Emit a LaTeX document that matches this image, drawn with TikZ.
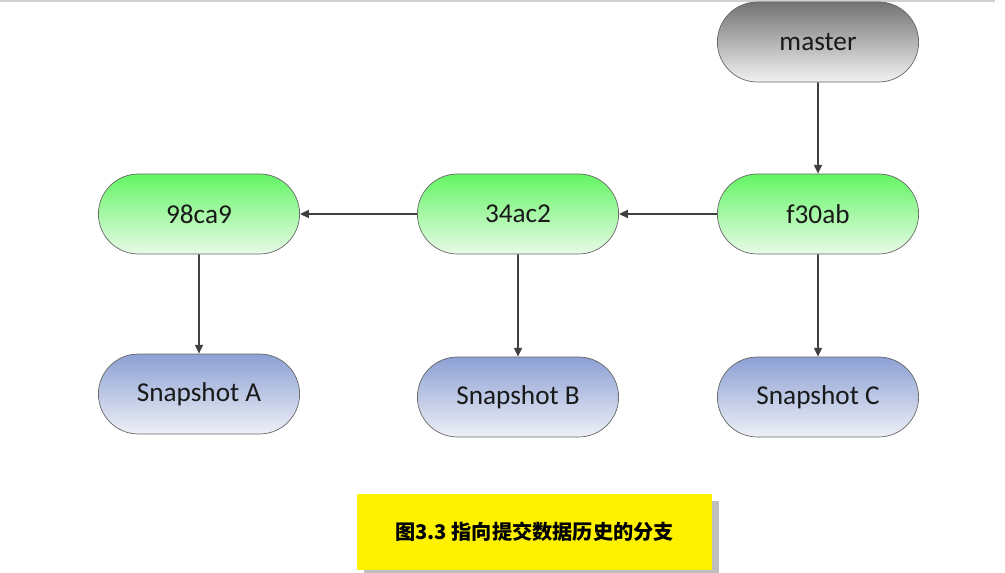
\documentclass[tikz,border=0pt]{standalone}
\usepackage{fontspec}
\setmainfont{Carlito}
\newfontfamily\cjk{Noto Sans CJK SC}
\usetikzlibrary{shapes.misc,arrows.meta}

\tikzset{
  blob/.style={rounded rectangle, draw=black!60, thin, minimum width=4.26cm,
    minimum height=1.6cm, font=\fontsize{15.5pt}{17pt}\selectfont, text=black!90},
  headblob/.style={blob, top color=black!55, bottom color=black!5},
  commitblob/.style={blob, top color={rgb,255:red,100;green,245;blue,100}, bottom color={rgb,255:red,232;green,250;blue,232}},
  snapblob/.style={blob, top color={rgb,255:red,140;green,160;blue,212}, bottom color={rgb,255:red,238;green,240;blue,246}},
  link/.style={-{Triangle[length=5pt,width=4.5pt]}, black!75, line width=0.9pt}
}

\begin{document}
\begin{tikzpicture}[x=0.02cm,y=-0.02cm]
    \useasboundingbox (0,0) rectangle (1005,573);
    \draw [black!18, line width=1pt] (0,1) -- (995,1);

    % branch
    \node [headblob] (master) at (818,42) {master};

    % commits
    \node [commitblob] (f30ab) at (818,214) {f30ab};
    \node [commitblob] (c34ac2) at (518,214) {34ac2};
    \node [commitblob] (c98ca9) at (199,214) {98ca9};

    % snapshots
    \node [snapblob] (snapA) at (199,394) {Snapshot A};
    \node [snapblob] (snapB) at (518,397) {Snapshot B};
    \node [snapblob] (snapC) at (818,397) {Snapshot C};

    % -
    \draw [link] (master) -- (f30ab);
    \draw [link] (f30ab.west) -- (c34ac2.east);
    \draw [link] (c34ac2.west) -- (c98ca9.east);
    % |
    \draw [link] (f30ab) -- (snapC);
    \draw [link] (c34ac2) -- (snapB);
    \draw [link] (c98ca9) -- (snapA);

    % caption
    \fill [black!25] (364,501) rectangle (719,577);
    \node [fill=yellow, minimum width=7.1cm, minimum height=1.52cm, inner sep=0pt,
      font=\cjk\fontsize{11.5pt}{13pt}\selectfont\bfseries] (caption) at (534.5,532) {图3.3 指向提交数据历史的分支};
\end{tikzpicture}
\end{document}
